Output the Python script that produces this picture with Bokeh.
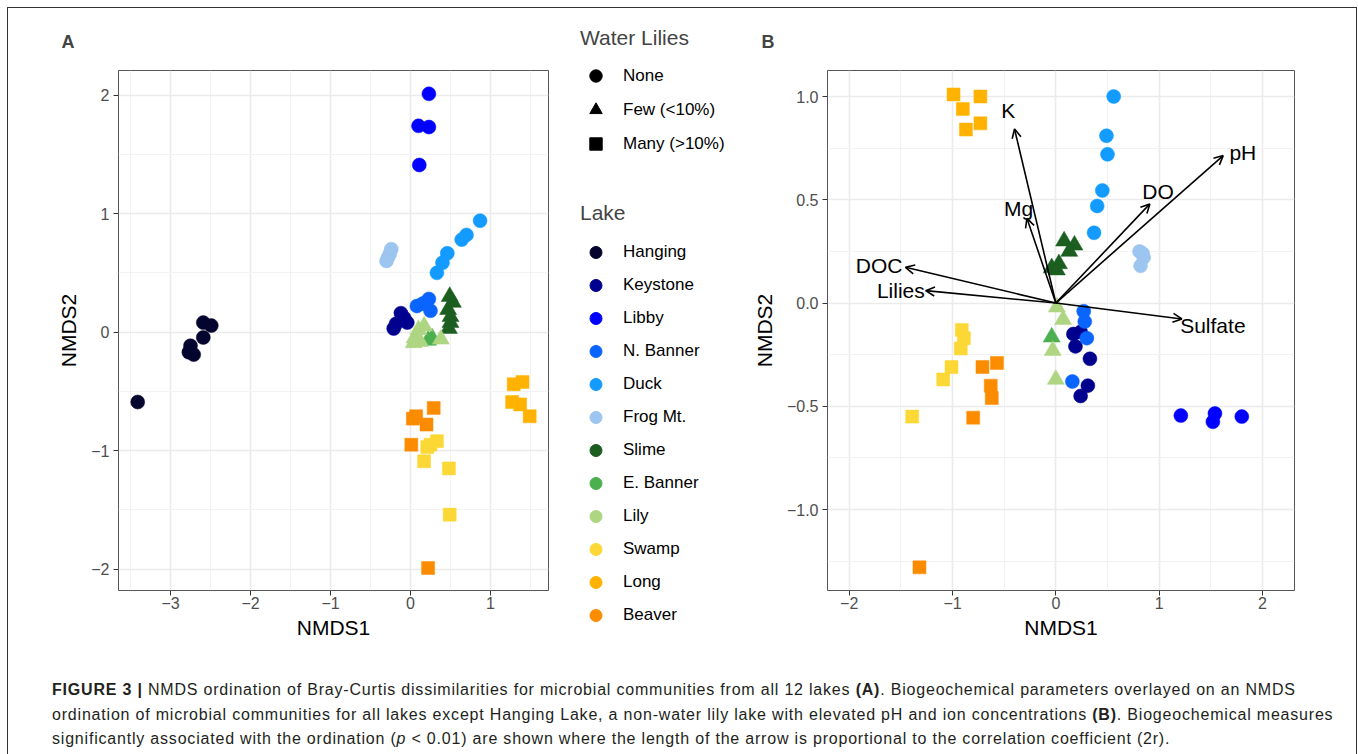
from bokeh.plotting import figure
from bokeh.models import (ColumnDataSource, FixedTicker, CustomJSTickFormatter, Range1d,
                          Legend, LegendItem, Arrow, OpenHead, Div)
from bokeh.layouts import row, column
from bokeh.core.properties import value
from bokeh.embed import file_html
from bokeh.resources import INLINE

FONT = "Liberation Sans"

# ---------------- data ----------------
lakes = ["Hanging", "Keystone", "Libby", "N. Banner", "Duck", "Frog Mt.",
         "Slime", "E. Banner", "Lily", "Swamp", "Long", "Beaver"]
lake_colors = ["#03052E", "#00008F", "#0000FF", "#0A64FF", "#139BFF", "#9CC5F0",
               "#1B5E20", "#4CAF50", "#AED581", "#FBD835", "#FFB300", "#FB8C00"]
lake_lilies = ["None", "None", "None", "None", "None", "None",
               "Few", "Few", "Few", "Many", "Many", "Many"]
lily_levels = ["None", "Few", "Many"]
lily_labels = ["None", "Few (<10%)", "Many (>10%)"]
lily_markers = ["circle", "triangle", "square"]

# Panel A: all 12 lakes
a_lake = (["Hanging"] * 7 + ["Keystone"] * 5 + ["Libby"] * 4 + ["N. Banner"] * 5 +
          ["Duck"] * 6 + ["Frog Mt."] * 4 + ["Slime"] * 6 + ["E. Banner"] * 2 +
          ["Lily"] * 6 + ["Swamp"] * 6 + ["Long"] * 5 + ["Beaver"] * 6)
a_x = [-3.41, -2.59, -2.49, -2.59, -2.75, -2.77, -2.71,
       -0.21, -0.18, -0.12, -0.08, -0.04,
       0.23, 0.10, 0.23, 0.11,
       0.08, 0.15, 0.23, 0.19, 0.25,
       0.87, 0.70, 0.64, 0.46, 0.40, 0.33,
       -0.24, -0.26, -0.28, -0.30,
       0.49, 0.53, 0.47, 0.50, 0.50, 0.48,
       0.27, 0.22,
       0.05, 0.10, 0.17, 0.12, 0.38, 0.04,
       0.33, 0.25, 0.21, 0.17, 0.48, 0.49,
       1.29, 1.40, 1.27, 1.37, 1.49,
       0.29, 0.03, 0.07, 0.20, 0.01, 0.22]
a_y = [-0.59, 0.08, 0.055, -0.045, -0.115, -0.17, -0.19,
       0.03, 0.07, 0.16, 0.12, 0.08,
       2.01, 1.74, 1.73, 1.41,
       0.22, 0.24, 0.28, 0.25, 0.18,
       0.94, 0.82, 0.78, 0.665, 0.585, 0.50,
       0.70, 0.66, 0.63, 0.60,
       0.30, 0.25, 0.19, 0.13, 0.08, 0.03,
       -0.05, -0.07,
       -0.05, 0.02, 0.05, -0.08, -0.06, -0.09,
       -0.92, -0.95, -0.97, -1.09, -1.15, -1.54,
       -0.44, -0.42, -0.59, -0.61, -0.71,
       -0.64, -0.73, -0.71, -0.78, -0.95, -1.99]

# Panel B: all lakes except Hanging
b_lake = (["Keystone"] * 6 + ["Libby"] * 4 + ["N. Banner"] * 4 + ["Duck"] * 6 +
          ["Frog Mt."] * 4 + ["Slime"] * 6 + ["E. Banner"] * 1 + ["Lily"] * 4 +
          ["Swamp"] * 6 + ["Long"] * 5 + ["Beaver"] * 6)
b_x = [0.17, 0.24, 0.19, 0.33, 0.31, 0.24,
       1.21, 1.54, 1.52, 1.80,
       0.27, 0.28, 0.30, 0.16,
       0.56, 0.49, 0.50, 0.45, 0.40, 0.37,
       0.81, 0.84, 0.85, 0.82,
       0.08, 0.18, 0.13, 0.03, -0.04, 0.01,
       -0.04,
       0.01, 0.07, -0.03, 0.00,
       -0.91, -0.89, -0.92, -1.01, -1.09, -1.39,
       -0.99, -0.73, -0.90, -0.73, -0.87,
       -0.71, -0.57, -0.63, -0.62, -0.80, -1.32]
b_y = [-0.15, -0.14, -0.21, -0.27, -0.40, -0.45,
       -0.545, -0.535, -0.575, -0.55,
       -0.04, -0.09, -0.17, -0.38,
       1.00, 0.81, 0.72, 0.545, 0.47, 0.34,
       0.25, 0.24, 0.22, 0.18,
       0.30, 0.28, 0.25, 0.19, 0.17, 0.16,
       -0.165,
       -0.02, -0.08, -0.23, -0.37,
       -0.13, -0.17, -0.22, -0.31, -0.37, -0.55,
       1.01, 1.00, 0.94, 0.87, 0.84,
       -0.31, -0.29, -0.40, -0.46, -0.555, -1.28]

# Biogeochemical vectors (panel B)
vec_names = ["K", "Mg", "DOC", "Lilies", "DO", "pH", "Sulfate"]
vec_x = [-0.40, -0.28, -1.455, -1.26, 0.91, 1.62, 1.22]
vec_y = [0.843, 0.41, 0.173, 0.06, 0.48, 0.714, -0.077]
vec_lab_x = [-0.46, -0.36, -1.71, -1.50, 0.99, 1.81, 1.52]
vec_lab_y = [0.93, 0.46, 0.18, 0.06, 0.54, 0.73, -0.11]

a_xticks = [-3, -2, -1, 0, 1]
a_xminor = [-3.5, -2.5, -1.5, -0.5, 0.5, 1.5]
a_yticks = [-2, -1, 0, 1, 2]
a_yminor = [-1.5, -0.5, 0.5, 1.5]
b_xticks = [-2, -1, 0, 1, 2]
b_xminor = [-1.5, -0.5, 0.5, 1.5]
b_yticks = [-1.0, -0.5, 0.0, 0.5, 1.0]
b_yminor = [-1.25, -0.75, -0.25, 0.25, 0.75]

color_of = dict(zip(lakes, lake_colors))
marker_of = {lk: lily_markers[lily_levels.index(lv)] for lk, lv in zip(lakes, lake_lilies)}
size_of = {"circle": 14, "triangle": 17, "square": 13}


def fmt_int():
    return CustomJSTickFormatter(code="return String(tick).replace('-', '\u2212');")


def fmt_dec():
    return CustomJSTickFormatter(code="return tick.toFixed(1).replace('-', '\u2212');")


def panel(letter, xr, yr, xt, xm, yt, ym, xfmt, yfmt, left, right, fw, title_offset):
    p = figure(frame_width=fw, frame_height=520,
               x_range=Range1d(*xr), y_range=Range1d(*yr),
               output_backend="svg", toolbar_location=None,
               min_border_left=left, min_border_right=right,
               min_border_top=62, min_border_bottom=60,
               background_fill_color="white", border_fill_color="white")
    p.title.text = letter
    p.title.text_font = FONT
    p.title.text_font_style = "bold"
    p.title.text_font_size = "18px"
    p.title.align = "left"
    p.title.offset = title_offset
    p.title.standoff = 38
    p.outline_line_color = "#555555"
    p.outline_line_width = 1
    p.xaxis.ticker = FixedTicker(ticks=xt, minor_ticks=xm)
    p.yaxis.ticker = FixedTicker(ticks=yt, minor_ticks=ym)
    p.xaxis.formatter = xfmt
    p.yaxis.formatter = yfmt
    for ax in (p.xaxis, p.yaxis):
        ax.axis_line_color = None
        ax.major_tick_line_color = "#333333"
        ax.major_tick_out = 5
        ax.major_tick_in = 0
        ax.minor_tick_line_color = None
        ax.major_label_text_font = FONT
        ax.major_label_text_font_size = "16px"
        ax.major_label_text_color = "#4D4D4D"
        ax.axis_label_text_font = FONT
        ax.axis_label_text_font_size = "21px"
        ax.axis_label_text_font_style = "normal"
        ax.axis_label_text_color = "black"
    p.xaxis.major_label_standoff = 1
    p.yaxis.major_label_standoff = 4
    p.xaxis.axis_label_standoff = 4
    p.yaxis.axis_label_standoff = 8
    p.xaxis.axis_label = "NMDS1"
    p.yaxis.axis_label = "NMDS2"
    for g in (p.xgrid, p.ygrid):
        g.grid_line_color = "#EBEBEB"
        g.grid_line_width = 1.6
        g.minor_grid_line_color = "#F2F2F2"
        g.minor_grid_line_width = 1
    return p


def draw_points(p, lk_list, xs, ys):
    for lk in lakes:
        px = [x for l, x in zip(lk_list, xs) if l == lk]
        py = [y for l, y in zip(lk_list, ys) if l == lk]
        if not px:
            continue
        m = marker_of[lk]
        p.scatter(x=px, y=py, marker=m, size=size_of[m],
                  fill_color=color_of[lk], line_color=color_of[lk], line_width=0.5)


pa = panel("A", (-3.65, 1.725), (-2.18, 2.207), a_xticks, a_xminor, a_yticks, a_yminor,
           fmt_int(), fmt_int(), 110, 4, 430, -57)
draw_points(pa, a_lake, a_x, a_y)

pb = panel("B", (-2.21, 2.31), (-1.392, 1.126), b_xticks, b_xminor, b_yticks, b_yminor,
           fmt_int(), fmt_dec(), 73, 50, 467, -66)
draw_points(pb, b_lake, b_x, b_y)

vsrc = ColumnDataSource(dict(x0=[0.0] * len(vec_names), y0=[0.0] * len(vec_names),
                             x1=vec_x, y1=vec_y))
pb.add_layout(Arrow(source=vsrc, x_start="x0", y_start="y0", x_end="x1", y_end="y1",
                    line_color="black", line_width=1.6,
                    end=OpenHead(size=9, line_color="black", line_width=1.6)))
pb.text(x=vec_lab_x, y=vec_lab_y, text=vec_names, text_font=value(FONT),
        text_font_size="21px", text_align="center", text_baseline="middle",
        text_color="black")


def legend_fig(h, top, title, labels, markers, colors, gh, sp, tst):
    f = figure(width=197, height=h, x_range=Range1d(0, 1), y_range=Range1d(0, 1),
               output_backend="svg", toolbar_location=None,
               x_axis_location=None, y_axis_location=None,
               min_border_left=28, min_border_right=0,
               min_border_top=top, min_border_bottom=0,
               border_fill_color="white", background_fill_color="white")
    f.grid.visible = False
    f.outline_line_color = None
    items = []
    for lab, m, c in zip(labels, markers, colors):
        # key-only renderer, placed outside the visible range
        r = f.scatter(x=[5], y=[5], marker=m, fill_color=c, line_color=c)
        items.append(LegendItem(label=lab, renderers=[r]))
    lg = Legend(items=items, location="top_left", title=title,
                margin=0, padding=0, border_line_color=None,
                background_fill_alpha=0,
                title_text_font=FONT, title_text_font_size="21px",
                title_text_font_style="normal", title_standoff=tst,
                label_text_font=FONT, label_text_font_size="17px",
                label_text_color="black",
                glyph_width=31, glyph_height=gh, label_standoff=12, spacing=sp)
    f.add_layout(lg)
    return f


leg1 = legend_fig(170, 18, "Water Lilies", lily_labels, lily_markers, ["black"] * 3, 31, 3, 10)
leg2 = legend_fig(472, 23, "Lake", lakes, ["circle"] * len(lakes), lake_colors, 30, 3, 12)

caption = Div(width=1338, height=100, text=(
    '<div style="font-family:\'Liberation Sans\',Arial,sans-serif;font-size:16px;'
    'letter-spacing:0.8px;line-height:24.5px;color:#231F20;padding:23px 0 0 39px;white-space:nowrap;">'
    '<b>FIGURE 3 |</b> NMDS ordination of Bray-Curtis dissimilarities for microbial '
    'communities from all 12 lakes <b>(A)</b>. Biogeochemical parameters overlayed on an NMDS<br>'
    'ordination of microbial communities for all lakes except Hanging Lake, a non-water lily '
    'lake with elevated pH and ion concentrations <b>(B)</b>. Biogeochemical measures<br>'
    'significantly associated with the ordination (<i>p</i> &lt; 0.01) are shown where the '
    'length of the arrow is proportional to the correlation coefficient (2r).</div>'))

layout = column(row(pa, column(leg1, leg2), pb), caption,
                styles={"margin": "8px 0 0 8px", "outline": "1px solid #333333"})

open("out.html", "w").write(file_html(layout, INLINE))
